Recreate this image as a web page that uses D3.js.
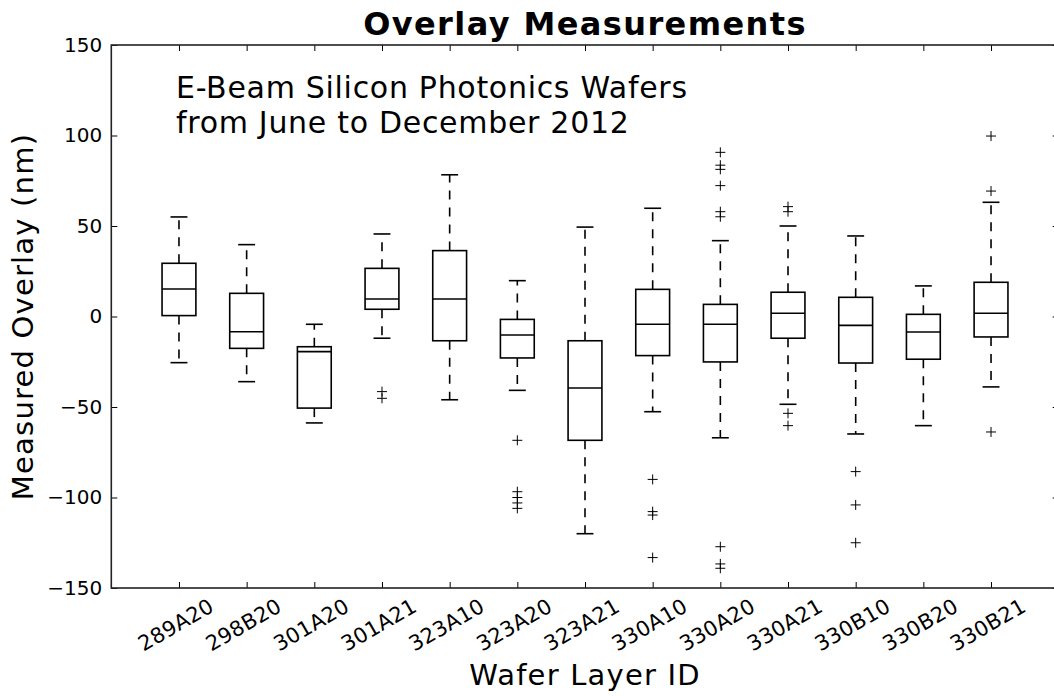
<!DOCTYPE html>
<html>
<head>
<meta charset="utf-8">
<script src="https://cdn.jsdelivr.net/npm/d3@7"></script>
<style>
  body { margin: 0; background: #fff; }
  svg { display: block; }
  svg text { font-family: "DejaVu Sans", sans-serif; }
</style>
</head>
<body>
<svg id="chart" width="1054" height="696"></svg>
<script>
// Wafer layers on the x axis
const wafers = ['289A20', '298B20', '301A20', '301A21', '323A10', '323A20', '323A21',
  '330A10', '330A20', '330A21', '330B10', '330B20', '330B21'];

// box statistics (nm)
const whiskerLow = [-25.5, -36, -58.8, -12, -46, -40.8, -120, -52.6, -67, -48.5, -64.9, -60.3, -38.9];
const quartile1 = [0.5, -17.6, -50.6, 4, -13.4, -22.9, -68.4, -21.6, -25.1, -12, -25.7, -23.6, -11.3];
const medians = [15.2, -8.4, -19.4, 9.7, 9.7, -10.2, -39.5, -4.3, -4.3, 1.8, -4.9, -8.6, 1.8];
const quartile3 = [29.4, 12.8, -16.7, 26.6, 36.4, -1.6, -13.4, 15, 6.7, 13.4, 10.6, 1.2, 18.9];
const whiskerHigh = [55, 39.7, -4.3, 45.6, 78.3, 19.8, 49.4, 59.8, 41.9, 50, 44.5, 16.9, 63.1];

// fliers for each wafer
const outliers = [
  [],
  [],
  [],
  [-41.5, -45.2],
  [],
  [-68.4, -96.8, -100, -103, -106],
  [],
  [-90, -107.8, -109.7, -133.2],
  [90.7, 83.6, 81.3, 72.3, 57.9, 55.1, -127.2, -136.7, -139.1],
  [60.7, 57.9, -53.5, -60.3],
  [-85.7, -104.1, -125],
  [],
  [99.7, 69.3, -63.8]
];

const yTicks = [-150, -100, -50, 0, 50, 100, 150];

const margin = { left: 111.3, right: 1058.7, top: 45, bottom: 588 };
const tickLen = 6;

const svg = d3.select('#chart');

const xScale = d3.scaleLinear()
  .domain([0, wafers.length + 1])
  .range([margin.left, margin.right]);

const yScale = d3.scaleLinear()
  .domain([-150, 150])
  .range([margin.bottom, margin.top]);

const boxes = wafers.map((name, i) => ({
  name,
  pos: i + 1,
  lo: whiskerLow[i],
  q1: quartile1[i],
  med: medians[i],
  q3: quartile3[i],
  hi: whiskerHigh[i],
  fliers: outliers[i]
}));

const boxHalf = (xScale(0.25) - xScale(0));
const capHalf = (xScale(0.125) - xScale(0));

const styleTicks = g => {
  g.select('.domain').remove();
  g.selectAll('line').attr('stroke', '#000').attr('stroke-width', 1);
};

// y axis (left) - ticks pointing inward
const yAxisLeft = d3.axisLeft(yScale).tickValues(yTicks).tickSizeInner(-tickLen).tickSizeOuter(0)
  .tickPadding(9).tickFormat(d => d < 0 ? '\u2212' + Math.abs(d) : d);
svg.append('g')
  .attr('transform', `translate(${margin.left},0)`)
  .call(yAxisLeft)
  .call(styleTicks)
  .call(g => g.selectAll('text')
    .attr('font-size', 20)
    .attr('font-family', '"DejaVu Sans", sans-serif')
    .attr('fill', '#000'));

// right side ticks
svg.append('g')
  .attr('transform', `translate(${margin.right},0)`)
  .call(d3.axisRight(yScale).tickValues(yTicks).tickSizeInner(-tickLen).tickSizeOuter(0).tickFormat(''))
  .call(styleTicks);

// bottom and top ticks
svg.append('g')
  .attr('transform', `translate(0,${margin.bottom})`)
  .call(d3.axisBottom(xScale).tickValues(boxes.map(b => b.pos)).tickSizeInner(-tickLen).tickSizeOuter(0).tickFormat(''))
  .call(styleTicks);

svg.append('g')
  .attr('transform', `translate(0,${margin.top})`)
  .call(d3.axisTop(xScale).tickValues(boxes.map(b => b.pos)).tickSizeInner(-tickLen).tickSizeOuter(0).tickFormat(''))
  .call(styleTicks);

// rotated wafer labels
svg.append('g')
  .selectAll('text')
  .data(boxes)
  .enter()
  .append('text')
  .attr('transform', d => `translate(${xScale(d.pos) - 3},625) rotate(-30)`)
  .attr('text-anchor', 'middle')
  .attr('dominant-baseline', 'central')
  .attr('font-size', 21)
  .attr('letter-spacing', 0.3)
  .text(d => d.name);

// frame
svg.append('rect')
  .attr('x', margin.left)
  .attr('y', margin.top)
  .attr('width', margin.right - margin.left)
  .attr('height', margin.bottom - margin.top)
  .attr('fill', 'none')
  .attr('stroke', '#222')
  .attr('stroke-width', 1.6);

const boxG = svg.append('g')
  .selectAll('g')
  .data(boxes)
  .enter()
  .append('g')
  .attr('stroke', '#000')
  .attr('fill', 'none')
  .attr('stroke-width', 1.6);

// whiskers (dashed)
boxG.append('line')
  .attr('x1', d => xScale(d.pos)).attr('x2', d => xScale(d.pos))
  .attr('y1', d => yScale(d.q3)).attr('y2', d => yScale(d.hi))
  .attr('stroke-dasharray', '9,8');
boxG.append('line')
  .attr('x1', d => xScale(d.pos)).attr('x2', d => xScale(d.pos))
  .attr('y1', d => yScale(d.q1)).attr('y2', d => yScale(d.lo))
  .attr('stroke-dasharray', '9,8');

// caps
boxG.append('line')
  .attr('x1', d => xScale(d.pos) - capHalf).attr('x2', d => xScale(d.pos) + capHalf)
  .attr('y1', d => yScale(d.hi)).attr('y2', d => yScale(d.hi));
boxG.append('line')
  .attr('x1', d => xScale(d.pos) - capHalf).attr('x2', d => xScale(d.pos) + capHalf)
  .attr('y1', d => yScale(d.lo)).attr('y2', d => yScale(d.lo));

// box
boxG.append('rect')
  .attr('x', d => xScale(d.pos) - boxHalf)
  .attr('width', boxHalf * 2)
  .attr('y', d => yScale(d.q3))
  .attr('height', d => yScale(d.q1) - yScale(d.q3));

// median
boxG.append('line')
  .attr('x1', d => xScale(d.pos) - boxHalf).attr('x2', d => xScale(d.pos) + boxHalf)
  .attr('y1', d => yScale(d.med)).attr('y2', d => yScale(d.med));

// fliers as + markers
const flierData = boxes.flatMap(b => b.fliers.map(v => ({ pos: b.pos, v })));
svg.append('g')
  .selectAll('path')
  .data(flierData)
  .enter()
  .append('path')
  .attr('d', d => {
    const x = xScale(d.pos);
    const y = yScale(d.v);
    return `M${x - 5},${y}H${x + 5}M${x},${y - 5}V${y + 5}`;
  })
  .attr('stroke', '#000')
  .attr('stroke-width', 1)
  .attr('fill', 'none');

// title and labels
svg.append('text')
  .attr('x', (margin.left + margin.right) / 2)
  .attr('y', 35)
  .attr('text-anchor', 'middle')
  .attr('font-size', 32)
  .attr('font-weight', 'bold')
  .attr('letter-spacing', 1.4)
  .text('Overlay Measurements');

svg.append('text')
  .attr('x', (margin.left + margin.right) / 2)
  .attr('y', 685)
  .attr('text-anchor', 'middle')
  .attr('font-size', 29)
  .attr('letter-spacing', 1.2)
  .text('Wafer Layer ID');

svg.append('text')
  .attr('transform', `translate(33,${(margin.top + margin.bottom) / 2}) rotate(-90)`)
  .attr('text-anchor', 'middle')
  .attr('font-size', 29)
  .attr('letter-spacing', 1.2)
  .text('Measured Overlay (nm)');

svg.append('text')
  .attr('x', 176)
  .attr('y', 98)
  .attr('font-size', 30)
  .attr('letter-spacing', 0.7)
  .text('E-Beam Silicon Photonics Wafers');
svg.append('text')
  .attr('x', 176)
  .attr('y', 133)
  .attr('font-size', 30)
  .attr('letter-spacing', 0.7)
  .text('from June to December 2012');
</script>
</body>
</html>
